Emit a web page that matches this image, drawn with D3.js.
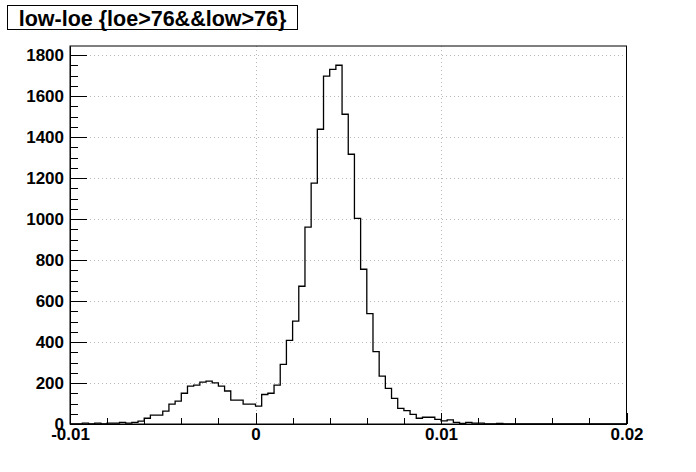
<!DOCTYPE html>
<html>
<head>
<meta charset="utf-8">
<script src="https://cdn.jsdelivr.net/npm/d3@7"></script>
<style>
  html, body { margin: 0; padding: 0; background: #fff; }
  svg { display: block; }
  text { font-family: "Liberation Sans", Arial, Helvetica, sans-serif; font-weight: bold; }
</style>
</head>
<body>
<svg id="chart" width="696" height="472"></svg>
<script>
// ---- data ----
const title = "low-loe {loe>76&&low>76}";
const histRange = [-0.01, 0.02];
const counts = [
  0, 0, 4, 0, 4, 0, 4, 4, 8, 4,
  8, 14, 28, 43, 43, 63, 97, 112, 150, 185,
  190, 204, 209, 201, 185, 161, 116, 116, 97, 97,
  87, 144, 150, 190, 291, 408, 502, 672, 960, 1175,
  1438, 1697, 1730, 1750, 1511, 1316, 1003, 755, 538, 353,
  234, 174, 125, 76, 65, 47, 28, 33, 33, 23,
  15, 20, 8, 3, 8, 4, 4, 0, 0, 3,
  0, 0, 0, 0, 0, 0, 0, 0, 0, 0,
  0, 0, 0, 0, 0, 0, 0, 0, 0, 0
];
const yMax = 1844;
const xMajorTicks = [-0.01, 0, 0.01, 0.02];
const xTickLabels = ["-0.01", "0", "0.01", "0.02"];
const xMinorTicks = [-0.008, -0.006, -0.004, -0.002, 0.002, 0.004, 0.006, 0.008, 0.012, 0.014, 0.016, 0.018];
const yMajorTicks = [0, 200, 400, 600, 800, 1000, 1200, 1400, 1600, 1800];
const yMinorTicks = d3.range(0, 1850, 50).filter(v => v % 200 !== 0);

(function () {
// ---- layout ----
const svg = d3.select("#chart");
const pL = 70, pR = 626.5, pT = 46, pB = 424;
const x = d3.scaleLinear().domain(histRange).range([pL, pR]);
const y = d3.scaleLinear().domain([0, yMax]).range([pB, pT]);

svg.append("rect").attr("width", 696).attr("height", 472).attr("fill", "#fff");

// grid
const grid = svg.append("g").attr("stroke", "#b8b8b8").attr("stroke-dasharray", "1,3").attr("shape-rendering", "crispEdges");
grid.selectAll("line.h").data(yMajorTicks.filter(v => v > 0)).enter().append("line")
  .attr("x1", pL).attr("x2", pR).attr("y1", d => Math.round(y(d)) + 0.5).attr("y2", d => Math.round(y(d)) + 0.5);
grid.selectAll("line.v").data(xMajorTicks.filter(v => v > histRange[0] && v < histRange[1])).enter().append("line")
  .attr("y1", pT).attr("y2", pB).attr("x1", d => Math.round(x(d)) + 0.5).attr("x2", d => Math.round(x(d)) + 0.5);

// histogram
const nBins = counts.length;
const binW = (histRange[1] - histRange[0]) / nBins;
const pts = [[histRange[0], 0]];
counts.forEach((c, i) => pts.push([histRange[0] + i * binW, c]));
pts.push([histRange[1], counts[nBins - 1]]);
pts.push([histRange[1], 0]);
const line = d3.line().x(d => x(d[0])).y(d => y(d[1])).curve(d3.curveStepAfter);
svg.append("path").attr("d", line(pts)).attr("fill", "none").attr("stroke", "#000")
  .attr("stroke-width", 1.3);

// frame
svg.append("rect").attr("x", pL).attr("y", pT).attr("width", pR - pL).attr("height", pB - pT)
  .attr("fill", "none").attr("stroke", "#000").attr("stroke-width", 1);

// axes
const yMajorLen = 0.03 * (pR - pL), yMinorLen = yMajorLen / 2;
const xMajorLen = 0.03 * (pB - pT), xMinorLen = xMajorLen / 2;

const yAxis = d3.axisLeft(y).tickValues(yMajorTicks).tickSizeInner(-yMajorLen).tickSizeOuter(0).tickPadding(6)
  .tickFormat(d3.format("d"));
const gy = svg.append("g").attr("transform", `translate(${pL},0)`).call(yAxis);
const yMinor = d3.axisLeft(y).tickValues(yMinorTicks).tickSizeInner(-yMinorLen).tickSizeOuter(0).tickFormat("");
const gym = svg.append("g").attr("transform", `translate(${pL},0)`).call(yMinor);

const xAxis = d3.axisBottom(x).tickValues(xMajorTicks).tickSizeInner(-xMajorLen).tickSizeOuter(0).tickPadding(4)
  .tickFormat((d, i) => xTickLabels[i]);
const gx = svg.append("g").attr("transform", `translate(0,${pB})`).call(xAxis);
const xMinor = d3.axisBottom(x).tickValues(xMinorTicks).tickSizeInner(-xMinorLen).tickSizeOuter(0).tickFormat("");
const gxm = svg.append("g").attr("transform", `translate(0,${pB})`).call(xMinor);

[gy, gym, gx, gxm].forEach(g => {
  g.selectAll("line").attr("stroke", "#000").attr("shape-rendering", "crispEdges");
  g.select(".domain").attr("stroke", "#000");
  g.selectAll("text").attr("fill", "#000").style("font-size", "17px")
    .style("font-family", '"Liberation Sans", Arial, sans-serif').style("font-weight", "bold");
});

// title box
svg.append("rect").attr("x", 7.5).attr("y", 5.5).attr("width", 290).attr("height", 24)
  .attr("fill", "#fff").attr("stroke", "#000").attr("stroke-width", 1);
svg.append("text").attr("x", 152.5).attr("y", 25.5).attr("text-anchor", "middle")
  .style("font-size", "21.5px").attr("fill", "#000").text(title);
})();
</script>
</body>
</html>
